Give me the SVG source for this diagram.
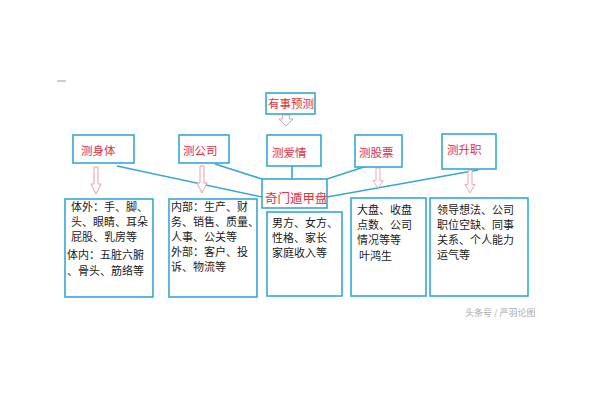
<svg xmlns="http://www.w3.org/2000/svg" width="600" height="400" viewBox="0 0 600 400">
<style>
.box{fill:#fff;stroke:#35a8d5;stroke-width:1.6}
.lbl{font-family:"Noto Sans CJK SC","Noto Sans",sans-serif;font-size:11.5px;fill:#e0303f}
.txt{font-family:"Noto Sans CJK SC","Noto Sans",sans-serif;font-size:11px;fill:#222}
.con{stroke:#35a8d5;stroke-width:1.6;fill:none}
.arr{fill:#fff;stroke:#e8a0aa;stroke-width:1}
</style>
<defs>
<path id="dn" d="M-2,0 L2,0 L2,17 L5,17 L0,27 L-5,17 L-2,17 Z"/>
<path id="dnw" d="M-3.5,0 L3.5,0 L3.5,4 L7,4 L0,11 L-7,4 L-3.5,4 Z"/>
</defs>
<rect width="600" height="400" fill="#fff"/>
<line x1="57" y1="81" x2="66" y2="81" stroke="#999" stroke-width="1"/>
<g id="connectors">
<line class="con" x1="292" y1="166" x2="292" y2="179"/>
<line class="con" x1="117" y1="166" x2="262" y2="197"/>
<line class="con" x1="215" y1="164" x2="262" y2="179"/>
<line class="con" x1="367" y1="166" x2="327" y2="179"/>
<line class="con" x1="478" y1="170" x2="327" y2="197"/>
<use href="#dnw" class="arr" transform="translate(286,115)"/>
<use href="#dn" class="arr" transform="translate(96,167)"/>
<use href="#dn" class="arr" transform="translate(202,166)"/>
<use href="#dn" class="arr" transform="translate(378,168) scale(1,0.75)"/>
<use href="#dn" class="arr" transform="translate(470,170) scale(1,0.85)"/>
</g>
<g id="n-top"><rect class="box" x="266" y="93" width="49" height="21"/><text class="lbl" x="268" y="108">有事预测</text></g>
<g id="n-body"><rect class="box" x="73" y="135" width="61" height="28"/><text class="lbl" x="81" y="155">测身体</text></g>
<g id="n-company"><rect class="box" x="179" y="135" width="50" height="28"/><text class="lbl" x="183" y="155">测公司</text></g>
<g id="n-love"><rect class="box" x="267" y="135" width="54" height="31"/><text class="lbl" x="272" y="157">测爱情</text></g>
<g id="n-stock"><rect class="box" x="355" y="135" width="47" height="32"/><text class="lbl" x="359" y="157">测股票</text></g>
<g id="n-promo"><rect class="box" x="442" y="134" width="54" height="35"/><text class="lbl" x="447" y="154">测升职</text></g>
<g id="n-qimen"><rect class="box" x="262" y="179" width="65" height="29"/><text class="lbl" x="265" y="203" style="font-size:12.5px">奇门遁甲盘</text></g>
<g id="d-body"><rect class="box" x="65" y="199" width="88" height="98"/>
<text class="txt" x="71" y="211">体外：手、脚、</text>
<text class="txt" x="71" y="226">头、眼睛、耳朵</text>
<text class="txt" x="71" y="241">屁股、乳房等</text>
<text class="txt" x="67" y="259">体内：五脏六腑</text>
<text class="txt" x="67" y="275">、骨头、筋络等</text></g>
<g id="d-company"><rect class="box" x="169" y="199" width="88" height="98"/>
<text class="txt" x="171" y="211">内部：生产、财</text>
<text class="txt" x="171" y="226">务、销售、质量、</text>
<text class="txt" x="171" y="241">人事、公关等</text>
<text class="txt" x="171" y="256">外部：客户、投</text>
<text class="txt" x="171" y="271">诉、物流等</text></g>
<g id="d-love"><rect class="box" x="267" y="212" width="75" height="84"/>
<text class="txt" x="272" y="227">男方、女方、</text>
<text class="txt" x="272" y="242">性格、家长</text>
<text class="txt" x="272" y="257">家庭收入等</text></g>
<g id="d-stock"><rect class="box" x="351" y="198" width="75" height="98"/>
<text class="txt" x="357" y="214">大盘、收盘</text>
<text class="txt" x="357" y="229">点数、公司</text>
<text class="txt" x="357" y="244">情况等等</text>
<text class="txt" x="359" y="260">叶鸿生</text></g>
<g id="d-promo"><rect class="box" x="430" y="198" width="98" height="98"/>
<text class="txt" x="437" y="214">领导想法、公司</text>
<text class="txt" x="437" y="229">职位空缺、同事</text>
<text class="txt" x="437" y="244">关系、个人能力</text>
<text class="txt" x="437" y="259">运气等</text></g>
<text x="465" y="316" style="font-family:'Noto Sans CJK SC',sans-serif;font-size:9px;fill:#aaa">头条号 / 严羽论图</text>
</svg>
